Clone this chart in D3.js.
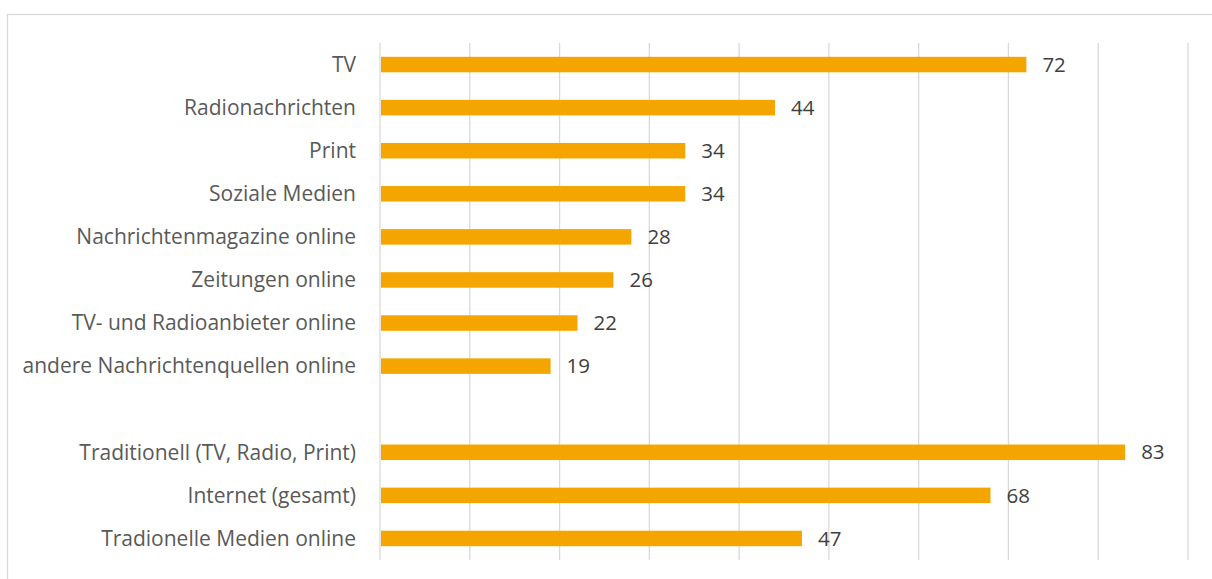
<!DOCTYPE html>
<html>
<head>
<meta charset="utf-8">
<script src="https://cdn.jsdelivr.net/npm/d3@7"></script>
<style>
    body { margin: 0; background: #fff; }
    svg { display: block; }
</style>
</head>
<body>
<svg id="chart" width="1212" height="579"></svg>
<script>
'use strict';

// Kategorien (leerer Eintrag = Lücke zwischen den Gruppen)
const categories = [
    'TV',
    'Radionachrichten',
    'Print',
    'Soziale Medien',
    'Nachrichtenmagazine online',
    'Zeitungen online',
    'TV- und Radioanbieter online',
    'andere Nachrichtenquellen online',
    '',
    'Traditionell (TV, Radio, Print)',
    'Internet (gesamt)',
    'Tradionelle Medien online'
];
const values = [72, 44, 34, 34, 28, 26, 22, 19, null, 83, 68, 47];
const gridTicks = [0, 10, 20, 30, 40, 50, 60, 70, 80, 90];

function chart() {
    const svg = d3.select('#chart');
    const left = 380, right = 1188, top = 43, bottom = 560;

    // Rahmen
    svg.append('rect')
        .attr('x', 7.5).attr('y', 14.5)
        .attr('width', 1215).attr('height', 580)
        .attr('fill', 'none')
        .attr('stroke', '#d9d9d9')
        .attr('stroke-width', 1.3);

    const x = d3.scaleLinear().domain([0, 90]).range([left, right]);
    const y = d3.scaleBand()
        .domain(d3.range(categories.length))
        .range([top, bottom])
        .paddingInner(0.64)
        .paddingOuter(0.32);

    // Gitternetz
    svg.append('g')
        .selectAll('line')
        .data(gridTicks)
        .enter()
        .append('line')
        .attr('x1', d => x(d)).attr('x2', d => x(d))
        .attr('y1', top).attr('y2', bottom)
        .attr('stroke', '#d9d9d9')
        .attr('stroke-width', 1.3);

    const rows = categories.map((c, i) => ({c: c, v: values[i], i: i}));

    // Kategorie-Beschriftung
    svg.append('g')
        .selectAll('text')
        .data(rows)
        .enter()
        .append('text')
        .attr('x', left - 24)
        .attr('y', d => y(d.i) + y.bandwidth() / 2)
        .attr('dy', '0.35em')
        .attr('text-anchor', 'end')
        .style('font-family', '"Open Sans", sans-serif')
        .style('font-size', '21px')
        .style('fill', '#595959')
        .text(d => d.c);

    const data = rows.filter(d => d.v !== null);

    // Balken
    svg.append('g')
        .selectAll('rect')
        .data(data)
        .enter()
        .append('rect')
        .attr('x', x(0) + 1)
        .attr('y', d => y(d.i))
        .attr('width', d => x(d.v) - x(0) - 1)
        .attr('height', y.bandwidth())
        .style('fill', '#f5a500');

    // Werte
    svg.append('g')
        .selectAll('text')
        .data(data)
        .enter()
        .append('text')
        .attr('x', d => x(d.v) + 16)
        .attr('y', d => y(d.i) + y.bandwidth() / 2)
        .attr('dy', '0.35em')
        .style('font-family', '"Open Sans", sans-serif')
        .style('font-size', '20.5px')
        .style('fill', '#404040')
        .text(d => d.v);
}

chart();
</script>
</body>
</html>
